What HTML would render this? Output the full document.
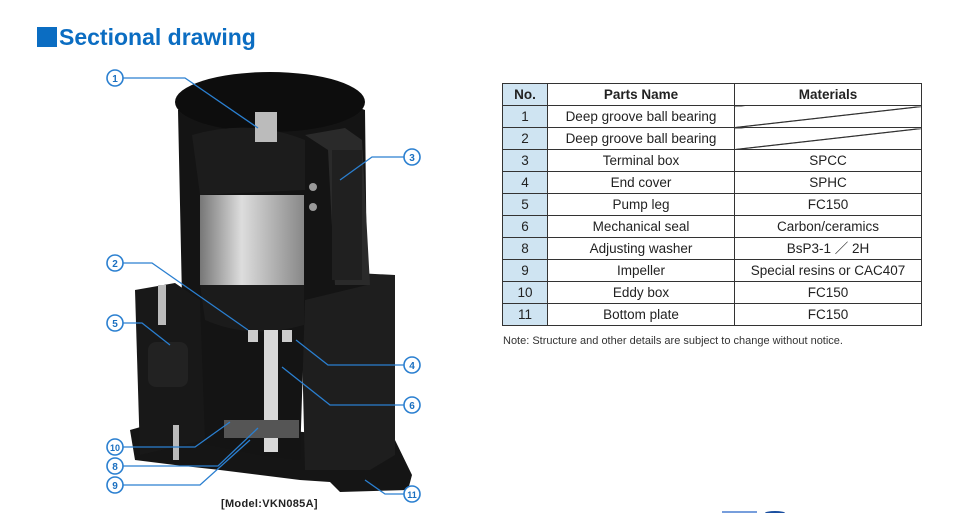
<!DOCTYPE html>
<html><head><meta charset="utf-8"><style>
body{margin:0;width:965px;height:513px;background:#fff;position:relative;overflow:hidden;font-family:"Liberation Sans",sans-serif}
.title{position:absolute;left:37px;top:24px;font-size:23px;font-weight:bold;color:#0b6dc2;letter-spacing:0px}
.title span{display:inline-block;width:20px;height:20px;background:#0b6dc2;vertical-align:-2px;margin-right:2px}
table{position:absolute;left:502px;top:83px;border-collapse:collapse;font-size:13.5px;color:#222}
td,th{border:1px solid #333;height:21px;padding:0;text-align:center;line-height:20px}
th{font-weight:bold;font-size:13.5px}
td.n,th.n{background:#cfe4f2;width:44px}
.note{position:absolute;left:503px;top:335px;font-size:11px;color:#333}
.cap{position:absolute;left:221px;top:498px;font-size:11px;font-weight:bold;color:#222;letter-spacing:0.3px}
</style></head><body>
<div class="title"><span></span>Sectional drawing</div>
<table>
<tr><th class="n">No.</th><th style="width:186px">Parts Name</th><th style="width:186px">Materials</th></tr>
<tr><td class="n">1</td><td>Deep groove ball bearing</td><td style="background:linear-gradient(to top left,transparent 48%,#333 49%,#333 51%,transparent 52%)"></td></tr>
<tr><td class="n">2</td><td>Deep groove ball bearing</td><td style="background:linear-gradient(to top left,transparent 48%,#333 49%,#333 51%,transparent 52%)"></td></tr>
<tr><td class="n">3</td><td>Terminal box</td><td>SPCC</td></tr>
<tr><td class="n">4</td><td>End cover</td><td>SPHC</td></tr>
<tr><td class="n">5</td><td>Pump leg</td><td>FC150</td></tr>
<tr><td class="n">6</td><td>Mechanical seal</td><td>Carbon/ceramics</td></tr>
<tr><td class="n">8</td><td>Adjusting washer</td><td>BsP3-1 ／ 2H</td></tr>
<tr><td class="n">9</td><td>Impeller</td><td>Special resins or CAC407</td></tr>
<tr><td class="n">10</td><td>Eddy box</td><td>FC150</td></tr>
<tr><td class="n">11</td><td>Bottom plate</td><td>FC150</td></tr>
</table>
<div class="note">Note: Structure and other details are subject to change without notice.</div>
<svg width="965" height="513" style="position:absolute;left:0;top:0">
<defs>
<linearGradient id="g" x1="0" x2="1"><stop offset="0" stop-color="#777"/><stop offset="0.4" stop-color="#ddd"/><stop offset="1" stop-color="#888"/></linearGradient>
</defs>
<polygon points="130,430 165,420 395,440 412,475 408,490 340,492 330,482 300,480 220,470 175,465 135,460" fill="#151515"/>
<path d="M300,270 L395,275 L395,455 L370,470 L305,470 Z" fill="#1e1e1e"/>
<path d="M178,110 Q265,70 365,110 L367,285 L305,300 L300,460 L260,455 L185,440 Z" fill="#141414"/>
<ellipse cx="270" cy="102" rx="95" ry="30" fill="#0d0d0d"/>
<path d="M192,135 Q250,118 305,140 L305,190 L200,195 Z" fill="#1c1c1c"/>
<rect x="200" y="195" width="104" height="90" fill="url(#g)"/>
<path d="M200,285 L304,285 L304,325 Q250,340 205,320 Z" fill="#1b1b1b"/>
<path d="M305,135 L345,128 L362,140 L370,285 L335,285 L328,150 Z" fill="#2a2a2a"/>
<rect x="332" y="150" width="30" height="130" fill="#202020"/>
<circle cx="313" cy="187" r="4" fill="#999"/><circle cx="313" cy="207" r="4" fill="#999"/>
<path d="M135,290 L175,283 L200,300 L205,440 L140,455 Z" fill="#181818"/>
<rect x="148" y="342" width="40" height="45" rx="8" fill="#222"/>
<rect x="158" y="285" width="8" height="40" fill="#bbb"/>
<rect x="173" y="425" width="6" height="35" fill="#bbb"/>
<rect x="264" y="330" width="14" height="122" fill="#d8d8d8"/>
<rect x="248" y="330" width="10" height="12" fill="#ccc"/><rect x="282" y="330" width="10" height="12" fill="#ccc"/>
<rect x="224" y="420" width="75" height="18" fill="#555"/>
<rect x="255" y="112" width="22" height="30" fill="#bbb"/>
<g stroke="#2a7fd0" stroke-width="1.3" fill="none">
<polyline points="123,78 185,78 258,128"/>
<polyline points="404,157 372,157 340,180"/>
<polyline points="123,263 152,263 248,330"/>
<polyline points="123,323 142,323 170,345"/>
<polyline points="404,365 328,365 296,340"/>
<polyline points="404,405 330,405 282,367"/>
<polyline points="123,447 195,447 230,422"/>
<polyline points="123,466 218,466 258,428"/>
<polyline points="123,485 200,485 250,440"/>
<polyline points="404,494 385,494 365,480"/>
</g>
<g fill="#fff" stroke="#2a7fd0" stroke-width="1.6">
<circle cx="115" cy="78" r="8"/><circle cx="412" cy="157" r="8"/><circle cx="115" cy="263" r="8"/>
<circle cx="115" cy="323" r="8"/><circle cx="412" cy="365" r="8"/><circle cx="412" cy="405" r="8"/>
<circle cx="115" cy="447" r="8"/><circle cx="115" cy="466" r="8"/><circle cx="115" cy="485" r="8"/>
<circle cx="412" cy="494" r="8"/>
</g>
<g fill="#1a6fc0" font-family="Liberation Sans,sans-serif" font-size="10" font-weight="bold" text-anchor="middle">
<text x="115" y="82">1</text><text x="412" y="161">3</text><text x="115" y="267">2</text>
<text x="115" y="327">5</text><text x="412" y="369">4</text><text x="412" y="409">6</text>
<text x="115" y="451" font-size="9">10</text><text x="115" y="470">8</text><text x="115" y="489">9</text>
<text x="412" y="498" font-size="9">11</text>
</g>
<line x1="722" y1="512" x2="757" y2="512" stroke="#4a7fd0" stroke-width="1.5"/>
<ellipse cx="775" cy="513" rx="10" ry="2" fill="#1a4fa0"/>
</svg>
<div class="cap">[Model:VKN085A]</div>
</body></html>
